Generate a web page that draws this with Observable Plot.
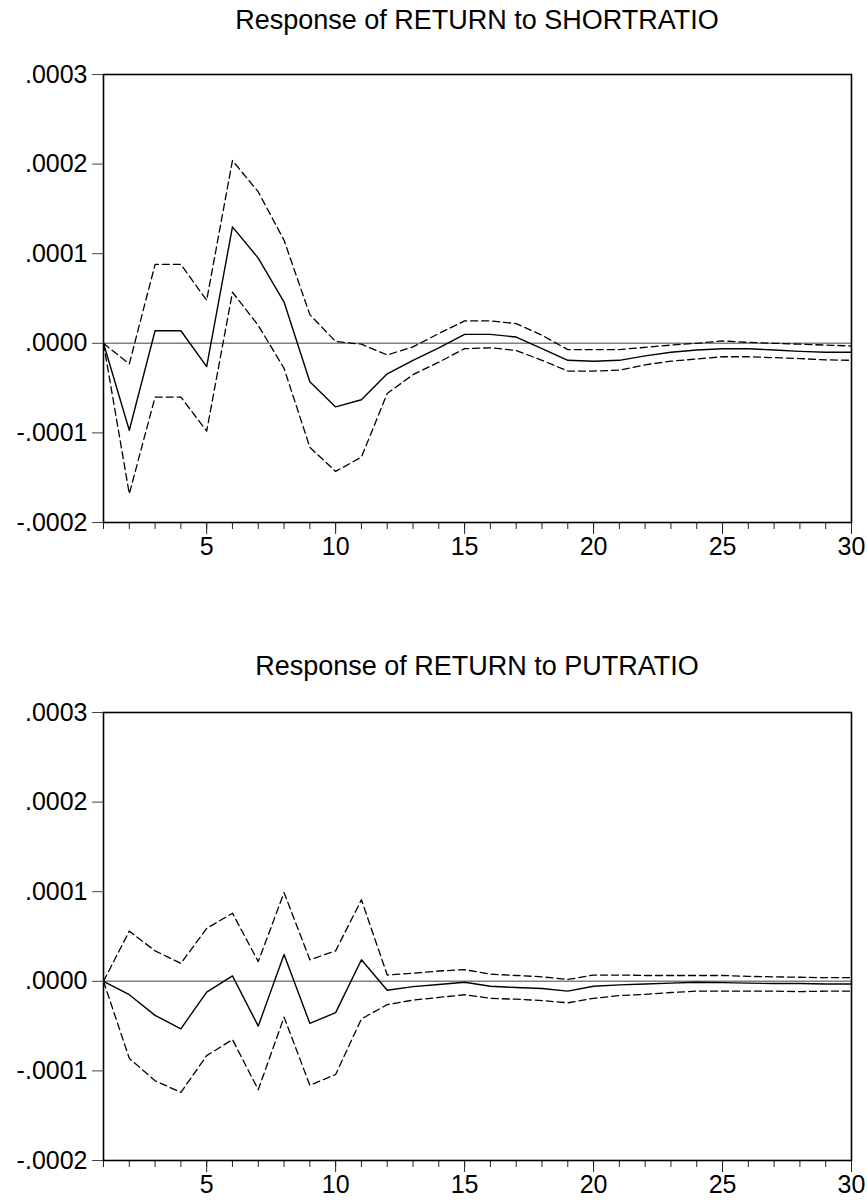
<!DOCTYPE html>
<html>
<head>
<meta charset="utf-8">
<script src="https://cdn.jsdelivr.net/npm/d3@7"></script>
<script src="https://cdn.jsdelivr.net/npm/@observablehq/plot@0.6"></script>
<style>
  html, body { margin: 0; padding: 0; background: #fff; }
  body { width: 867px; height: 1204px; position: relative; overflow: hidden; font-family: "Liberation Sans", Arial, sans-serif; }
  .title { position: absolute; left: 103px; width: 748px; text-align: center; font-size: 27px; color: #000; white-space: nowrap; z-index: 2; line-height: 32px; }
  .panel { position: absolute; left: 0; z-index: 1; }
</style>
</head>
<body>
<div class="panel" id="p1" style="top:0px"></div>
<div class="title" style="top:4px">Response of RETURN to SHORTRATIO</div>
<div class="panel" id="p2" style="top:638px"></div>
<div class="title" style="top:650px">Response of RETURN to PUTRATIO</div>
<script>
const periods = d3.range(1, 31);
const xMajorTicks = [5, 10, 15, 20, 25, 30];
const yTicks = [-0.0002, -0.0001, 0, 0.0001, 0.0002, 0.0003];

// Response of RETURN to SHORTRATIO (units: 1e-4)
const shortResp  = [0, -0.97, 0.14, 0.14, -0.26, 1.30, 0.95, 0.46, -0.43, -0.71, -0.63, -0.34, -0.19, -0.05, 0.10, 0.10, 0.07, -0.06, -0.19, -0.20, -0.19, -0.14, -0.10, -0.075, -0.06, -0.06, -0.075, -0.09, -0.10, -0.10];
const shortUpper = [0, -0.23, 0.88, 0.88, 0.48, 2.04, 1.69, 1.15, 0.32, 0.02, -0.01, -0.13, -0.04, 0.11, 0.25, 0.25, 0.22, 0.09, -0.07, -0.07, -0.07, -0.045, -0.02, 0.00, 0.026, 0.01, 0.00, -0.01, -0.02, -0.03];
const shortLower = [0, -1.68, -0.60, -0.60, -0.98, 0.57, 0.20, -0.28, -1.16, -1.43, -1.27, -0.56, -0.35, -0.21, -0.06, -0.05, -0.08, -0.19, -0.31, -0.31, -0.30, -0.24, -0.20, -0.175, -0.15, -0.15, -0.16, -0.17, -0.185, -0.19];

// Response of RETURN to PUTRATIO (units: 1e-4)
const putResp  = [0, -0.15, -0.38, -0.53, -0.12, 0.06, -0.50, 0.30, -0.47, -0.35, 0.24, -0.10, -0.06, -0.035, -0.01, -0.055, -0.07, -0.08, -0.11, -0.055, -0.04, -0.03, -0.02, -0.01, -0.015, -0.02, -0.025, -0.025, -0.03, -0.03];
const putUpper = [0, 0.56, 0.34, 0.20, 0.59, 0.76, 0.22, 0.99, 0.24, 0.34, 0.91, 0.07, 0.09, 0.115, 0.13, 0.08, 0.065, 0.05, 0.02, 0.07, 0.07, 0.065, 0.065, 0.065, 0.065, 0.055, 0.05, 0.045, 0.04, 0.04];
const putLower = [0, -0.86, -1.11, -1.24, -0.83, -0.65, -1.21, -0.40, -1.16, -1.04, -0.42, -0.26, -0.21, -0.18, -0.15, -0.19, -0.20, -0.215, -0.24, -0.19, -0.16, -0.145, -0.125, -0.11, -0.11, -0.11, -0.11, -0.115, -0.11, -0.11];

const SCALE = 1e-4;
const toRows = arr => periods.map((p, i) => ({p, v: arr[i] * SCALE}));

function fmtY(v) {
  if (Math.abs(v) < 1e-12) return ".0000";
  const s = Math.abs(v).toFixed(4).replace(/^0/, "");
  return (v < 0 ? "-" : "") + s;
}

function panel(resp, upper, lower) {
  return Plot.plot({
    width: 867,
    height: 572,
    marginTop: 74,
    marginBottom: 50,
    marginLeft: 103,
    marginRight: 16,
    style: {fontFamily: "'Liberation Sans', Arial, sans-serif", fontSize: "25px", color: "#000", background: "transparent", overflow: "visible"},
    x: {domain: [1, 30]},
    y: {domain: [-0.0002, 0.0003]},
    marks: [
      Plot.ruleY([0], {stroke: "#808080", strokeWidth: 1.5}),
      Plot.line(toRows(upper), {x: "p", y: "v", stroke: "#000", strokeWidth: 1.3, strokeDasharray: "7,4"}),
      Plot.line(toRows(lower), {x: "p", y: "v", stroke: "#000", strokeWidth: 1.3, strokeDasharray: "7,4"}),
      Plot.line(toRows(resp), {x: "p", y: "v", stroke: "#000", strokeWidth: 1.4}),
      Plot.axisY(yTicks, {tickSize: 11, tickPadding: 5, tickFormat: fmtY, stroke: "#444", fontSize: 25, fill: "#000", label: null}),
      Plot.axisX(periods, {tickSize: 7, tickFormat: () => "", stroke: "#222", label: null}),
      Plot.axisX(xMajorTicks, {tickSize: 12, tickPadding: 3, tickFormat: d => String(d), stroke: "#222", fontSize: 25, fill: "#000", label: null}),
      Plot.frame({stroke: "#000", strokeWidth: 1.6})
    ]
  });
}

document.getElementById("p1").appendChild(panel(shortResp, shortUpper, shortLower));
document.getElementById("p2").appendChild(panel(putResp, putUpper, putLower));
</script>
</body>
</html>
